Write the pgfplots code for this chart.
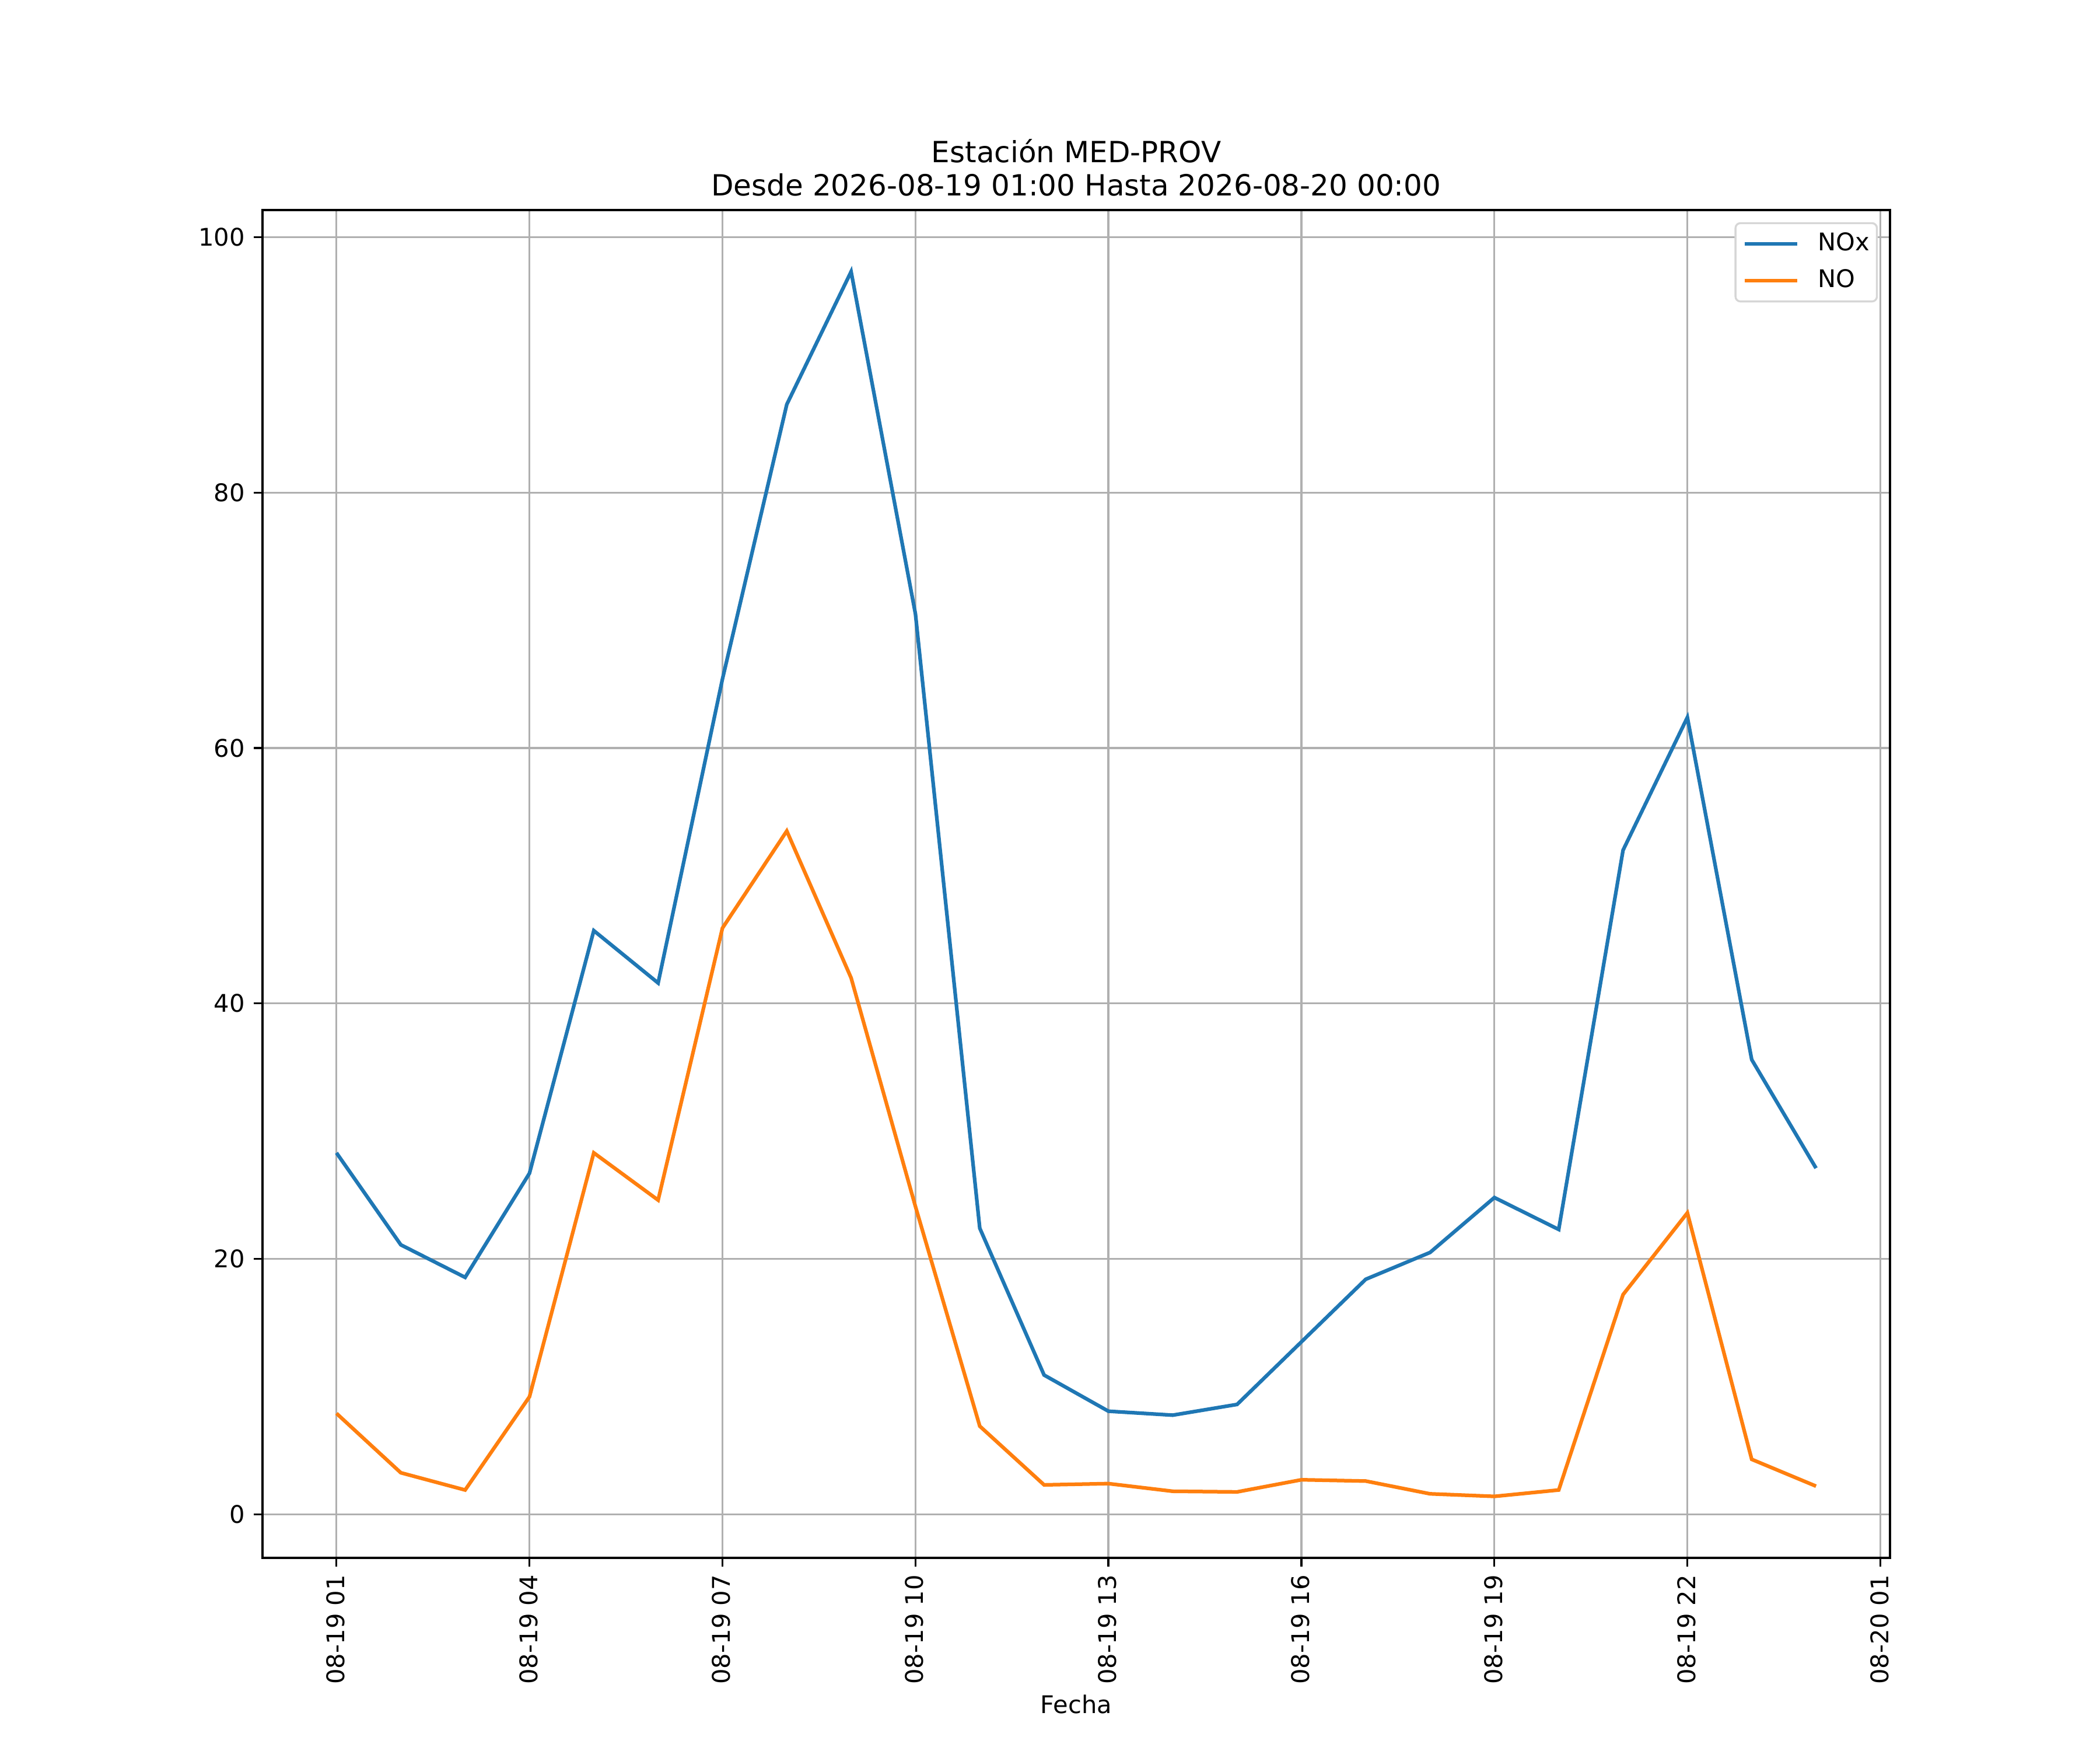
\documentclass[border=0pt]{standalone}
\usepackage{pgfplots}
\pgfplotsset{compat=1.18}
\usepackage{fontspec}
\setmainfont{DejaVu Sans}
\definecolor{c1}{HTML}{1F77B4}
\definecolor{c2}{HTML}{FF7F0E}
\definecolor{gridc}{HTML}{B0B0B0}
\definecolor{legc}{HTML}{D6D6D6}
\begin{document}
\begin{tikzpicture}
\path[use as bounding box] (-108pt,-79.2pt) rectangle (756pt,640.8pt);
\begin{axis}[
  at={(0,0)}, anchor=south west,
  scale only axis, width=669.6pt, height=554.4pt,
  xmin=-0.15, xmax=25.15, ymin=-3.415, ymax=102.125,
  font=\fontsize{10}{12}\selectfont,
  /pgf/number format/assume math mode=true,
  axis line style={line width=0.8pt, black},
  tick style={line width=0.8pt, black},
  tick align=outside, major tick length=3.5pt,
  xtick pos=bottom, ytick pos=left,
  xtick={1,4,7,10,13,16,19,22,25},
  xticklabels={08-19 01,08-19 04,08-19 07,08-19 10,08-19 13,08-19 16,08-19 19,08-19 22,08-20 01},
  xticklabel style={rotate=90, anchor=east, inner sep=0pt, outer sep=0pt, xshift=-3.5pt, yshift=0.4pt},
  ytick={0,20,40,60,80,100},
  yticklabel style={anchor=east, inner sep=0pt, xshift=-3.5pt},
  grid=major,
  major grid style={line width=0.8pt, gridc},
  xlabel={Fecha},
  xlabel style={inner sep=0pt, anchor=north, at={(ticklabel cs:0.5)}, yshift=-4.3pt},
  title={Estación MED-PROV\\Desde 2026-08-19 01:00 Hasta 2026-08-20 00:00},
  title style={align=center, font=\fontsize{12}{13.8}\selectfont, anchor=south, at={(0.5,1)}, yshift=-0.6pt, inner sep=0pt},
  legend style={at={(1,1)}, anchor=north east, xshift=-5pt, yshift=-5pt,
    draw=legc, line width=0.8pt, rounded corners=2pt, font=\fontsize{10}{12}\selectfont,
    inner xsep=3pt, inner ysep=4pt, row sep=6pt, column sep=7.8pt,
    nodes={inner sep=0pt, text height=7.3pt, text depth=1.8pt}},
  legend cell align=left,
  legend image code/.code={\draw[#1, line width=1.5pt] (0pt,0pt) -- (21.6pt,0pt);},
]
\addplot[c1, line width=1.5pt] coordinates {
(1,28.3) (2,21.1) (3,18.55) (4,26.7) (5,45.7) (6,41.6) (7,65.4) (8,86.9)
(9,97.3) (10,70.5) (11,22.4) (12,10.9) (13,8.07) (14,7.76) (15,8.6) (16,13.5)
(17,18.4) (18,20.5) (19,24.8) (20,22.3) (21,52.0) (22,62.4) (23,35.6) (24,27.1)};
\addlegendentry{NOx\hspace{1.8pt}}
\addplot[c2, line width=1.5pt] coordinates {
(1,7.9) (2,3.25) (3,1.9) (4,9.2) (5,28.3) (6,24.6) (7,45.9) (8,53.5)
(9,42.0) (10,24.1) (11,6.9) (12,2.3) (13,2.4) (14,1.8) (15,1.75) (16,2.7)
(17,2.6) (18,1.6) (19,1.4) (20,1.9) (21,17.2) (22,23.6) (23,4.3) (24,2.2)};
\addlegendentry{NO}
\end{axis}
\end{tikzpicture}
\end{document}
